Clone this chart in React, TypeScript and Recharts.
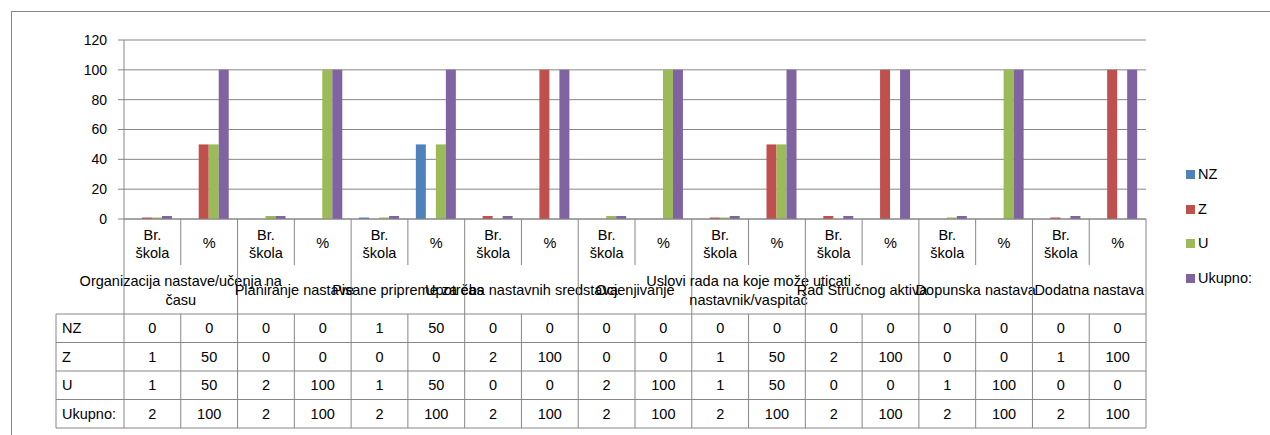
import React from 'react'
import { BarChart, Bar, XAxis, YAxis, CartesianGrid } from 'recharts'

const groups = [
  'Organizacija nastave/učenja na\nčasu',
  'Planiranje nastave',
  'Pisane pripreme za čas',
  'Upotreba nastavnih sredstava',
  'Ocjenjivanje',
  'Uslovi rada na koje može uticati\nnastavnik/vaspitač',
  'Rad Stručnog aktiva',
  'Dopunska nastava',
  'Dodatna nastava',
]
const subLabels = ['Br.\nškola', '%']

const nz = [0, 0, 0, 0, 1, 50, 0, 0, 0, 0, 0, 0, 0, 0, 0, 0, 0, 0]
const z = [1, 50, 0, 0, 0, 0, 2, 100, 0, 0, 1, 50, 2, 100, 0, 0, 1, 100]
const u = [1, 50, 2, 100, 1, 50, 0, 0, 2, 100, 1, 50, 0, 0, 1, 100, 0, 0]
const ukupno = [2, 100, 2, 100, 2, 100, 2, 100, 2, 100, 2, 100, 2, 100, 2, 100, 2, 100]

const yTicks = [0, 20, 40, 60, 80, 100, 120]

const series = [
  { key: 'NZ', name: 'NZ', color: '#4F81BD', values: nz },
  { key: 'Z', name: 'Z', color: '#C0504D', values: z },
  { key: 'U', name: 'U', color: '#9BBB59', values: u },
  { key: 'Ukupno', name: 'Ukupno:', color: '#8064A2', values: ukupno },
]

const data = groups.flatMap((g, gi) =>
  subLabels.map((s, si) => {
    const i = gi * 2 + si
    const row: any = { id: String(i), sub: s, group: g }
    series.forEach((sr) => (row[sr.key] = sr.values[i]))
    return row
  })
)

// layout
const W = 1270
const H = 435
const PLOT_L = 124
const PLOT_R = 1146
const PLOT_TOP = 40
const PLOT_BOTTOM = 219
const STEP = (PLOT_R - PLOT_L) / data.length
const TABLE_L = 56
const TABLE_TOP = 314
const ROW_H = 28.5
const LINE = '#868686'
const FONT = '"Liberation Sans", Arial, sans-serif'
const FS = 14.5

const TableTick = (props: any) => {
  const { x, payload } = props
  const i = Number(payload.value)
  const d = data[i]
  const left = x - STEP / 2
  const tableBottom = TABLE_TOP + ROW_H * series.length
  const subLines = d.sub.split('\n')
  const groupLines = d.group.split('\n')
  const first = i % 2 === 0
  return (
    <g fontFamily={FONT} fontSize={FS} fill="#000">
      {/* header separators */}
      <line x1={left} x2={left} y1={PLOT_BOTTOM} y2={first ? TABLE_TOP : 265} stroke={LINE} />
      <line x1={left} x2={left} y1={TABLE_TOP} y2={tableBottom} stroke={LINE} />
      {i === data.length - 1 && (
        <line x1={left + STEP} x2={left + STEP} y1={PLOT_BOTTOM} y2={tableBottom} stroke={LINE} />
      )}
      {subLines.map((t: string, k: number) => (
        <text key={k} x={x} y={subLines.length > 1 ? 235 + k * 17.5 : 243} dy="0.35em" textAnchor="middle">
          {t}
        </text>
      ))}
      {first &&
        groupLines.map((t: string, k: number) => (
          <text
            key={'g' + k}
            x={x + STEP / 2}
            y={groupLines.length > 1 ? 281 + k * 19 : 290}
            dy="0.35em"
            textAnchor="middle"
          >
            {t}
          </text>
        ))}
      {series.map((sr, r) => (
        <text key={sr.key} x={x} y={TABLE_TOP + ROW_H * (r + 0.5)} dy="0.35em" textAnchor="middle">
          {sr.values[i]}
        </text>
      ))}
      {i === 0 && (
        <g>
          <line x1={TABLE_L} x2={TABLE_L} y1={TABLE_TOP} y2={tableBottom} stroke={LINE} />
          {series.map((sr, r) => (
            <text key={sr.key} x={TABLE_L + 6} y={TABLE_TOP + ROW_H * (r + 0.5)} dy="0.35em">
              {sr.name}
            </text>
          ))}
          {[0, 1, 2, 3, 4].map((r) => (
            <line
              key={'h' + r}
              x1={TABLE_L}
              x2={PLOT_R}
              y1={TABLE_TOP + ROW_H * r}
              y2={TABLE_TOP + ROW_H * r}
              stroke={LINE}
            />
          ))}
        </g>
      )}
    </g>
  )
}

export default function App() {
  return (
    <div style={{ position: 'absolute', left: 0, top: 0, width: W, height: H, overflow: 'hidden', background: '#fff' }}>
      <div
        style={{
          position: 'absolute',
          left: 11,
          top: 11,
          width: 1400,
          height: 600,
          border: `1px solid ${LINE}`,
          boxSizing: 'border-box',
        }}
      />
      <div style={{ position: 'absolute', left: 0, top: 0 }}>
        <BarChart
          width={W}
          height={H}
          data={data}
          margin={{ top: PLOT_TOP, right: W - PLOT_R, bottom: 0, left: PLOT_L - 60 }}
          barCategoryGap="14%"
          barGap={0}
        >
          <CartesianGrid vertical={false} stroke={LINE} />
          <YAxis
            width={60}
            domain={[0, 120]}
            ticks={yTicks}
            interval={0}
            axisLine={{ stroke: LINE }}
            tickLine={{ stroke: LINE }}
            tickSize={6}
            tickMargin={11}
            tick={{ fill: '#000', fontSize: 14, fontFamily: FONT }}
          />
          <XAxis
            dataKey="id"
            height={H - PLOT_BOTTOM}
            interval={0}
            axisLine={{ stroke: LINE }}
            tickLine={false}
            tick={<TableTick />}
          />
          {series.map((sr) => (
            <Bar key={sr.key} dataKey={sr.key} name={sr.name} fill={sr.color} isAnimationActive={false} />
          ))}
        </BarChart>
      </div>
      {series.map((sr, k) => (
        <div
          key={sr.key}
          style={{
            position: 'absolute',
            left: 1186,
            top: 166 + k * 34.5,
            display: 'flex',
            alignItems: 'center',
            fontFamily: FONT,
            fontSize: FS,
            color: '#000',
            lineHeight: '17px',
          }}
        >
          <span style={{ display: 'inline-block', width: 9, height: 9, background: sr.color, marginRight: 3 }} />
          {sr.name}
        </div>
      ))}
    </div>
  )
}
